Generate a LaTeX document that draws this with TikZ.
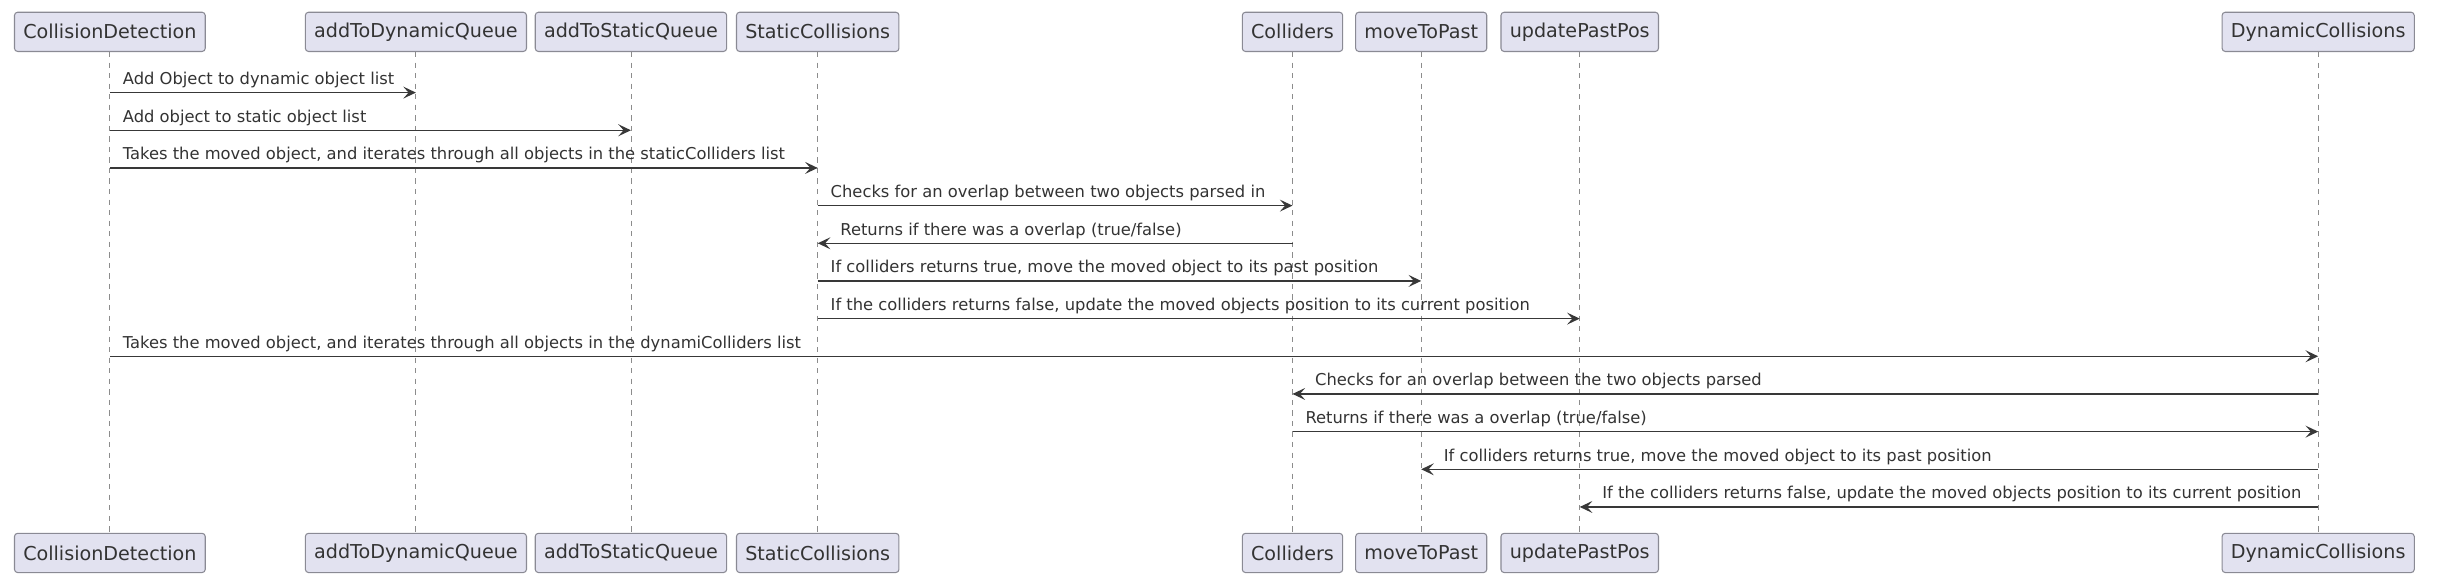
\documentclass[tikz,border=0pt]{standalone}
\usepackage{fontspec}
\setmainfont{DejaVu Sans}
\usetikzlibrary{arrows.meta}
\definecolor{partfill}{HTML}{E2E2F0}
\definecolor{partline}{HTML}{8A8A94}
\definecolor{msgline}{HTML}{383838}
\tikzset{
  part/.style={draw=partline, fill=partfill, rounded corners=1.8pt, line width=0.6pt,
    minimum height=0.785cm, inner xsep=5pt, text=black!80, font=\fontsize{10.9}{13}\selectfont},
  life/.style={draw=gray!90, line width=0.5pt, dash pattern=on 3pt off 3pt},
  msg/.style={draw=msgline, line width=0.8pt, -{Stealth[length=7.2pt,width=6.8pt,inset=3pt]}},
  msglabel/.style={anchor=base west, inner sep=0pt, yshift=4.6pt, text=black!80,
    font=\fontsize{9.3}{11}\selectfont}
}
\begin{document}
\begin{tikzpicture}[x=0.0314cm, y=-0.0314cm]
  \useasboundingbox (0,0) rectangle (1568,371);
  \foreach \n/\x/\t in {cd/70/CollisionDetection, adq/265/addToDynamicQueue,
      asq/402/addToStaticQueue, sc/521/StaticCollisions, col/823.5/Colliders,
      mtp/905.5/moveToPast, upp/1006.5/updatePastPos, dc/1477/DynamicCollisions} {
    \node[part] (\n) at (\x,20.3) {\t};
    \node[part] (\n-b) at (\x,352.3) {\t};
    \draw[life] (\n) -- (\n-b);
  }
  \foreach \y/\s/\e/\p/\t in {
      59/cd/adq/0/{Add Object to dynamic object list},
      83/cd/asq/0/{Add object to static object list},
      107/cd/sc/0/{Takes the moved object, and iterates through all objects in the staticColliders list},
      131/sc/col/0/{Checks for an overlap between two objects parsed in},
      155/col/sc/1/{Returns if there was a overlap (true/false)},
      179/sc/mtp/0/{If colliders returns true, move the moved object to its past position},
      203/sc/upp/0/{If the colliders returns false, update the moved objects position to its current position},
      227/cd/dc/0/{Takes the moved object, and iterates through all objects in the dynamiColliders list},
      251/dc/col/1/{Checks for an overlap between the two objects parsed},
      275/col/dc/0/{Returns if there was a overlap (true/false)},
      299/dc/mtp/1/{If colliders returns true, move the moved object to its past position},
      323/dc/upp/1/{If the colliders returns false, update the moved objects position to its current position}}
    \draw[msg] (\s |- 0,\y) -- (\e |- 0,\y) node[msglabel, pos=\p, xshift={7pt+5.5pt*\p}] {\t};
\end{tikzpicture}
\end{document}
